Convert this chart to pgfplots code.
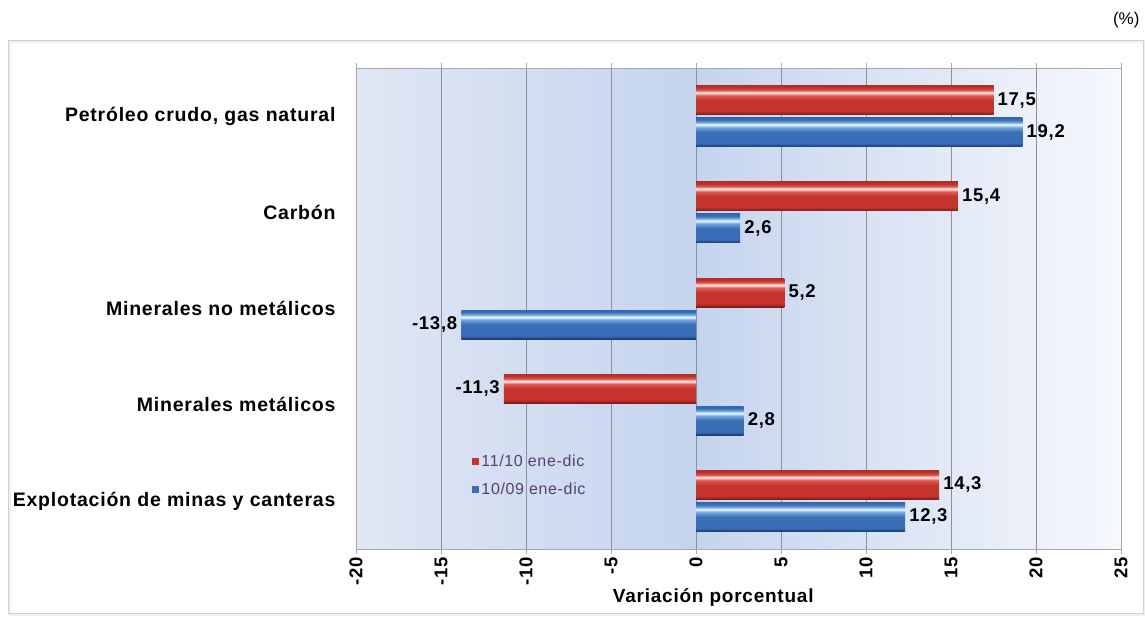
\documentclass[border=0pt]{standalone}
\usepackage{pgfplots}
\pgfplotsset{compat=1.18}
\usepackage{fontspec}
\setmainfont{Liberation Sans}
\newfontfamily\spc[LetterSpace=4]{Liberation Sans}
\definecolor{gridc}{HTML}{8C9099}
\definecolor{framec}{HTML}{A6A8AD}
\definecolor{legtext}{HTML}{553E72}
\definecolor{bgL}{HTML}{E0E7F4}
\definecolor{bgM}{HTML}{C5D4EE}
\definecolor{bgR}{HTML}{F6F8FC}
\definecolor{rdark}{HTML}{7E1A18}
\definecolor{rmid}{HTML}{C4332C}
\definecolor{rlight}{HTML}{DE5A52}
\definecolor{rhi}{HTML}{FDF0EF}
\definecolor{rtop}{HTML}{B02E28}
\definecolor{bdark}{HTML}{1B3B70}
\definecolor{bmid}{HTML}{3A6FB8}
\definecolor{blight}{HTML}{6FA5DE}
\definecolor{bhi}{HTML}{EEF8FF}
\definecolor{btop}{HTML}{3366AA}
\pgfdeclareverticalshading{redbar}{100bp}{color(0bp)=(rdark); color(25bp)=(rdark); color(31bp)=(rmid); color(50bp)=(rmid); color(58bp)=(rlight); color(63bp)=(rhi); color(67bp)=(rlight); color(71bp)=(rmid); color(75bp)=(rtop); color(100bp)=(rtop)}
\pgfdeclareverticalshading{bluebar}{100bp}{color(0bp)=(bdark); color(25bp)=(bdark); color(31bp)=(bmid); color(50bp)=(bmid); color(58bp)=(blight); color(63bp)=(bhi); color(67bp)=(blight); color(71bp)=(bmid); color(75bp)=(btop); color(100bp)=(btop)}
\pgfdeclarehorizontalshading{plotbg}{100bp}{color(0bp)=(bgL); color(25bp)=(bgL); color(47.2bp)=(bgM); color(75bp)=(bgR); color(100bp)=(bgR)}
\pgfplotsset{
  rbar/.style={xbar, bar width=29pt, bar shift=16pt, draw=none, shade, shading=redbar,
    nodes near coords style={yshift=16pt},
    legend image code/.code={\pgfsetfillcolor{rmid}\pgfpathrectangle{\pgfpoint{0pt}{-3.5pt}}{\pgfpoint{7pt}{7pt}}\pgfusepath{fill}}},
  bbar/.style={xbar, bar width=29pt, bar shift=-16pt, draw=none, shade, shading=bluebar,
    nodes near coords style={yshift=-16pt},
    legend image code/.code={\pgfsetfillcolor{bmid}\pgfpathrectangle{\pgfpoint{0pt}{-3.5pt}}{\pgfpoint{7pt}{7pt}}\pgfusepath{fill}}},
}
\begin{document}
\begin{tikzpicture}
\useasboundingbox (0pt,0pt) rectangle (1145pt,622pt);
\fill[white] (0pt,0pt) rectangle (1145pt,622pt);
\draw[black!6, line width=3pt] (9pt,8pt) rectangle (1144pt,580pt);
\draw[black!18, line width=1pt] (8pt,9pt) rectangle (1143pt,581pt);
\node[anchor=east, font=\fontsize{17}{17}\selectfont] at (1143pt,602pt) {(\%)};
\begin{axis}[
  at={(356pt,73pt)}, anchor=south west,
  scale only axis, width=765pt, height=481pt,
  xmin=-20, xmax=25, ymin=-0.5, ymax=4.5,
  xtick={-20,-15,...,25},
  ytick={0,1,2,3,4},
  yticklabels={Explotación de minas y canteras, Minerales metálicos, Minerales no metálicos, Carbón, {Petróleo crudo, gas natural}},
  /pgf/number format/assume math mode=true,
  xticklabel style={rotate=90, anchor=east, font=\spc\bfseries\fontsize{18.5}{18.5}\selectfont},
  yticklabel style={font=\spc\bfseries\fontsize{19.5}{19.5}\selectfont, xshift=-17pt},
  ytick style={draw=none},
  xtick align=outside, major tick length=5pt,
  xtick style={draw=framec, line width=0.8pt},
  xmajorgrids, major grid style={draw=gridc, line width=1pt},
  axis line style={draw=framec, line width=0.8pt},
  axis background/.style={shade, shading=plotbg},
  xlabel={Variación porcentual},
  xlabel style={font=\spc\bfseries\fontsize{19}{19}\selectfont, at={(axis description cs:0.467,-0.1)}, anchor=center},
  legend style={at={(rel axis cs:0.152,0.2)}, anchor=north west, draw=none, fill=none,
     font=\spc\fontsize{16}{16}\selectfont, text=legtext, row sep=11pt, inner sep=0pt,
     nodes={inner xsep=2pt}},
  legend cell align=left,
  point meta=x,
  nodes near coords={\pgfmathprintnumber[use comma,fixed,fixed zerofill,precision=1]{\pgfplotspointmeta}},
  nodes near coords align={horizontal},
  every node near coord/.append style={font=\spc\bfseries\fontsize{18.5}{18.5}\selectfont, text=black, inner sep=4pt},
]
% 11/10 ene-dic (red)
\addplot[rbar] coordinates {(17.5,4)};
\addlegendentry{11/10 ene-dic}
\addplot[rbar, forget plot] coordinates {(15.4,3)};
\addplot[rbar, forget plot] coordinates {(5.2,2)};
\addplot[rbar, forget plot] coordinates {(-11.3,1)};
\addplot[rbar, forget plot] coordinates {(14.3,0)};
% 10/09 ene-dic (blue)
\addplot[bbar] coordinates {(19.2,4)};
\addlegendentry{10/09 ene-dic}
\addplot[bbar, forget plot] coordinates {(2.6,3)};
\addplot[bbar, forget plot] coordinates {(-13.8,2)};
\addplot[bbar, forget plot] coordinates {(2.8,1)};
\addplot[bbar, forget plot] coordinates {(12.3,0)};
\end{axis}
\end{tikzpicture}
\end{document}
